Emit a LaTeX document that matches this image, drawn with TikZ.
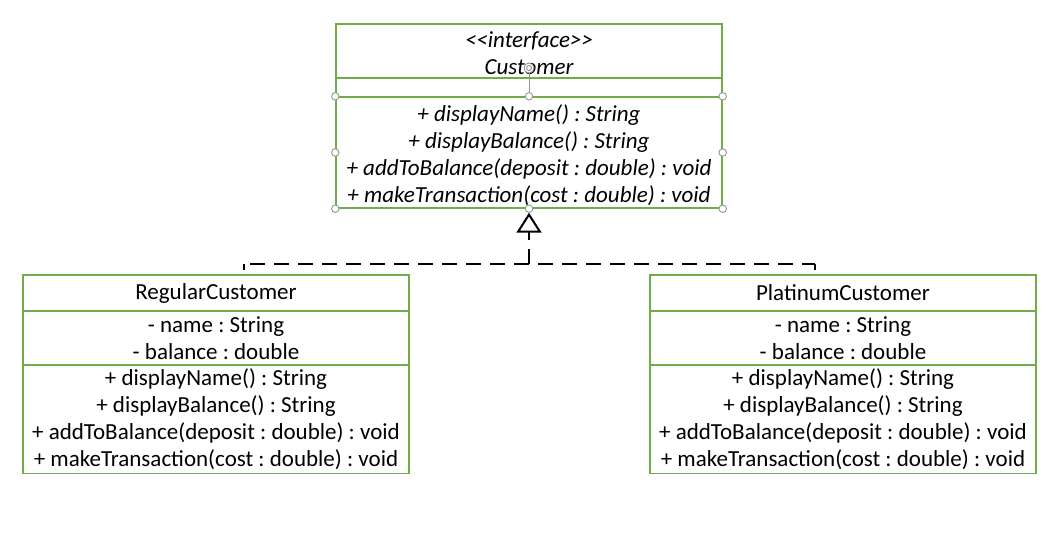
\documentclass[tikz,border=0pt]{standalone}
\usepackage{fontspec}
\setmainfont{Carlito}
\usetikzlibrary{arrows.meta}
\definecolor{umlgreen}{RGB}{112,173,71}
\definecolor{handle}{RGB}{150,150,150}
\frenchspacing
\begin{document}
\begin{tikzpicture}[x=1pt,y=-1pt,
  comp/.style={draw=umlgreen,line width=1.4pt,minimum width=386pt,inner sep=0pt,
    align=center,font=\fontsize{23}{27}\selectfont},
  itext/.style={inner sep=0pt,align=center,font=\fontsize{23}{27}\selectfont\itshape},
  dl/.style={line width=2.8pt,dash pattern=on 15pt off 9pt},
  hnd/.style={circle,draw=handle,fill=white,line width=0.9pt,minimum size=7.5pt,inner sep=0pt}]
\useasboundingbox (0,0) rectangle (1061,552);
\fill[white] (0,0) rectangle (1061,552);
% interface
\node[comp,minimum height=54pt] (ihead) at (529,51) {};
\node[itext] (iheadt) at (529,53) {<\kern0pt<interface>\kern0pt>\\Customer};
\node[comp,minimum height=19pt] (iattr) at (529,87.5) {};
\node[comp,minimum height=111pt] (imeth) at (529,152.5) {};
\node[itext] (imetht) at (529,155.5) {+ displayName() : String\\+ displayBalance() : String\\+ addToBalance(deposit : double) : void\\+ makeTransaction(cost : double) : void};
% regular
\node[comp,minimum height=36pt] (rhead) at (216,293) {RegularCustomer};
\node[comp,minimum height=54pt] (rattr) at (216,338) {- name : String\\- balance : double};
\node[comp,minimum height=108pt] (rmeth) at (216,419.5) {+ displayName() : String\\+ displayBalance() : String\\+ addToBalance(deposit : double) : void\\+ makeTransaction(cost : double) : void};
% platinum
\node[comp,minimum height=36pt] (phead) at (843,293) {PlatinumCustomer};
\node[comp,minimum height=54pt] (pattr) at (843,338) {- name : String\\- balance : double};
\node[comp,minimum height=108pt] (pmeth) at (843,419.5) {+ displayName() : String\\+ displayBalance() : String\\+ addToBalance(deposit : double) : void\\+ makeTransaction(cost : double) : void};
% realization
\coordinate (j) at (529,264);
\coordinate (rl) at (244,264);
\coordinate (pl) at (815,264);
\draw[dl,dash phase=-6pt] (rl) -- (pl);
\draw[dl] (rl) -- ++(0,6);
\draw[dl] (pl) -- ++(0,6);
\draw[dl,shorten >=4pt,-{Triangle[open,length=20pt,width=25pt,line width=2pt,sep=0pt]}] (j) -- (imeth.south);
% selection handles
\draw[handle,line width=0.9pt] (529,72) -- (iattr.south);
\node[circle,draw=handle,fill=white,line width=0.9pt,minimum size=10pt,inner sep=0pt] (rot) at (529,68) {};
\draw[handle,line width=0.9pt] (rot.center) circle (2.5pt);
\foreach \n/\p in {h1/{(imeth.north west)},h2/{(imeth.north)},h3/{(imeth.north east)},h4/{(imeth.west)},h5/{(imeth.east)},h6/{(imeth.south west)},h7/{(imeth.south)},h8/{(imeth.south east)}}
  \node[hnd] (\n) at \p {};
\end{tikzpicture}
\end{document}
